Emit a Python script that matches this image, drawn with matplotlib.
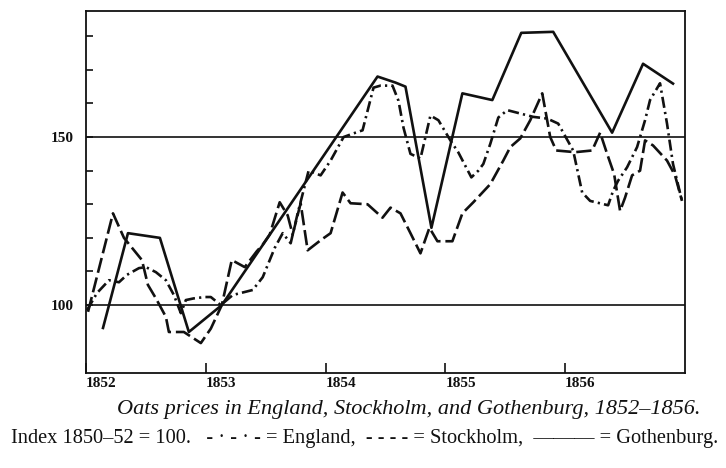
import matplotlib
matplotlib.use("Agg")
import matplotlib.pyplot as plt
from matplotlib.ticker import FixedLocator

plt.rcParams['font.family'] = ['Liberation Serif', 'DejaVu Serif']
plt.rcParams['lines.scale_dashes'] = False

# months counted from Jan 1852, values index 1850-52 = 100
eng_months = [0.1, 1.1, 2.3, 3.3, 4.1, 5.3, 6.0, 7.0, 8.0, 8.8,
              9.5, 10.0, 10.8, 11.9, 12.5, 13.5, 14.7, 16.7, 17.7, 18.9,
              19.7, 20.5, 21.2, 22.3, 23.5, 24.5, 25.8, 27.0, 27.7, 28.8,
              29.5, 30.7, 31.3, 31.8, 32.5, 33.5, 34.5, 35.3, 36.5, 37.3,
              38.6, 39.3, 39.8, 40.5, 41.3, 42.2, 43.5, 44.8, 46.2, 47.3,
              48.8, 49.7, 50.5, 52.3, 52.8, 53.3, 54.2, 55.2, 56.0, 56.5,
              57.5, 58.2, 58.8, 59.7]
eng_vals = [98.5, 103.6, 107.4, 106.8, 109, 111, 111.3, 109.8, 107.4, 103,
            97.6, 101.5, 102, 102.4, 102.4, 100, 103, 104.5, 108.3, 117,
            121.4, 118.4, 127.3, 140, 138.6, 143, 150, 151.3, 152, 164.7,
            165.3, 165.3, 160.8, 152.8, 145, 143.6, 156.4, 155, 149, 145.4,
            138, 140, 142, 148, 155.8, 158, 157, 156, 155.5, 154,
            146, 133.5, 131, 129.7, 134, 137, 141, 147, 155, 161,
            166, 154, 142, 131]

sto_months = [0.2, 2.7, 3.8, 5.6, 6.2, 7.0, 8.0, 8.3, 9.8, 11.5,
              12.5, 13.6, 14.6, 15.9, 17.1, 17.7, 18.4, 19.4, 20.2, 20.7,
              21.5, 22.2, 23.5, 24.5, 25.7, 26.5, 28.2, 29.7, 30.5, 31.5,
              32.5, 33.5, 34.4, 35.2, 36.7, 37.7, 38.8, 40.5, 41.8, 42.5,
              43.5, 44.5, 45.7, 46.5, 47.1, 49.0, 50.7, 51.5, 52.2, 52.9,
              53.5, 54.0, 54.7, 55.5, 56.0, 56.8, 58.2, 59.0, 59.7]
sto_vals = [98, 127.3, 120, 113.4, 106, 102, 96.5, 92, 92, 88.7,
            93, 100, 113.4, 111.3, 116, 118, 121, 130.6, 126.7, 121,
            130.3, 116.3, 119.3, 121.4, 133.5, 130.3, 130, 126, 129, 127.3,
            121.4, 115.4, 123, 119, 119, 127.3, 130.6, 136, 143, 147,
            149.6, 155, 163, 150, 146, 145.5, 146, 151.3, 145, 139,
            128, 132, 138.6, 140, 149, 147.5, 143, 138.6, 131]

got_months = [1.7, 4.2, 7.4, 10.3, 13.6, 29.2, 31.0, 32.0,
              34.6, 37.7, 40.7, 43.6, 46.8, 52.7, 55.8, 58.8]
got_vals = [93.2, 121.4, 120, 92, 100, 168, 166.2, 165,
            123, 163, 161, 181, 181.3, 151.3, 171.8, 165.9]

years = ['1852', '1853', '1854', '1855', '1856']
year_months = [0, 12, 24, 36, 48]
ref_levels = [100, 150]

ink = '#111111'

fig = plt.figure(figsize=(7.26, 4.68), dpi=100)
ax = fig.add_axes([0.1185, 0.203, 0.825, 0.7735])

for lvl in ref_levels:
    ax.axhline(lvl, color=ink, lw=1.2, zorder=1)

ax.plot(eng_months, eng_vals, color=ink, lw=1.9, dashes=(8, 3, 1.6, 3))
ax.plot(sto_months, sto_vals, color=ink, lw=1.9, dashes=(11, 3.5))
ax.plot(got_months, got_vals, color=ink, lw=1.9)

ax.set_xlim(0, 60)
ax.set_ylim(79.8, 187.5)

for sp in ax.spines.values():
    sp.set_color(ink)
    sp.set_linewidth(1.3)

ax.set_xticks(year_months)
ax.set_xticklabels(years, ha='left', fontsize=11, fontweight='semibold')
ax.tick_params(axis='x', direction='in', length=7, width=1.2, pad=3, colors=ink)

ax.set_yticks(ref_levels)
ax.set_yticklabels([str(v) for v in ref_levels], fontsize=11, fontweight='semibold')
ax.yaxis.set_minor_locator(FixedLocator([110, 120, 130, 140, 160, 170, 180]))
ax.tick_params(axis='y', which='both', direction='in', length=5, width=1.2,
               pad=9, colors=ink)

fig.text(0.563, 0.124,
         'Oats prices in England, Stockholm, and Gothenburg, 1852\u20131856.',
         ha='center', va='center', fontsize=16, style='italic', color=ink)
fig.text(0.502, 0.063,
         'Index 1850\u201352 = 100.   - \u00b7 - \u00b7 - = England,  - - - - = Stockholm,  '
         '\u2014\u2014\u2014 = Gothenburg.',
         ha='center', va='center', fontsize=14.7, color=ink)

fig.savefig('out.png', dpi=100)
